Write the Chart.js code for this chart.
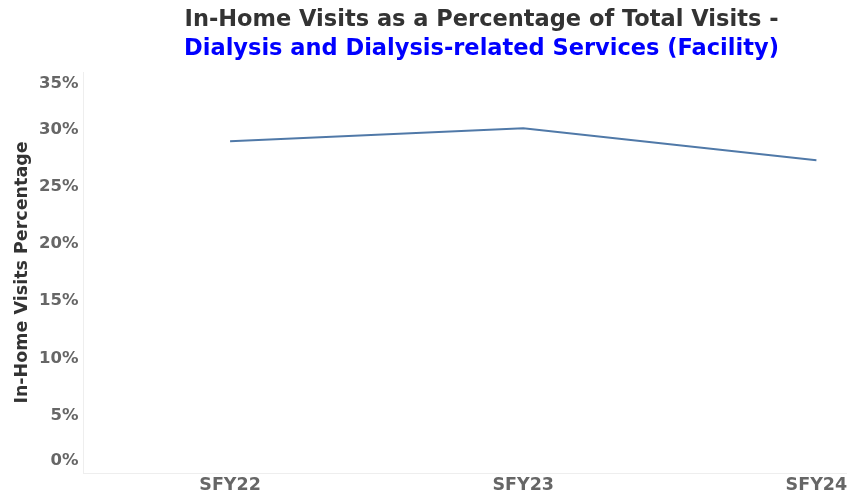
<!DOCTYPE html>
<html>
<head>
<meta charset="utf-8">
<script src="https://cdn.jsdelivr.net/npm/chart.js@4"></script>
<style>
  html, body { margin: 0; padding: 0; background: #fff; overflow: hidden; }
  #wrap { width: 963px; height: 498px; }
</style>
</head>
<body>
<div id="wrap"><canvas id="chart" width="963" height="498"></canvas></div>
<script>
// Dati
const years = ['SFY22', 'SFY23', 'SFY24'];
const inHomePct = [28.95, 30.1, 27.3];

const titleLine1 = 'In-Home Visits as a Percentage of Total Visits -';
const titleLine2 = 'Dialysis and Dialysis-related Services (Facility)';

const fontFamily = '"DejaVu Sans", Verdana, sans-serif';
const yTickFont = { family: fontFamily, size: 16.5, weight: 'bold' };

// Etichette dell'asse Y disegnate a mano: quelle ai bordi restano dentro l'area
const edgeLabels = {
    id: 'edgeLabels',
    afterDraw(chart) {
        const y = chart.scales.y;
        const c = chart.ctx;
        c.save();
        c.font = `bold ${yTickFont.size}px ${yTickFont.family}`;
        c.fillStyle = '#666666';
        c.textAlign = 'right';
        c.textBaseline = 'middle';
        y.ticks.forEach(t => {
            let py = y.getPixelForValue(t.value);
            py = Math.min(Math.max(py, y.top + 12), y.bottom - 12);
            c.fillText(t.value + '%', y.right - 5, py);
        });
        c.restore();
    }
};

const ctx = document.getElementById('chart').getContext('2d');

new Chart(ctx, {
    type: 'line',
    data: {
        labels: years,
        datasets: [{
            label: 'In-Home Visits Percentage',
            data: inHomePct,
            borderColor: '#5079a8',
            borderWidth: 2,
            pointRadius: 0,
            tension: 0,
            fill: false
        }]
    },
    plugins: [edgeLabels],
    options: {
        responsive: false,
        animation: false,
        devicePixelRatio: 1,
        layout: {
            padding: 0
        },
        plugins: {
            legend: { display: false },
            tooltip: { enabled: false },
            title: {
                display: true,
                text: titleLine1,
                color: '#333333',
                font: { family: fontFamily, size: 22.5, weight: 'bold' },
                padding: { top: 6.5, bottom: 2 }
            },
            subtitle: {
                display: true,
                text: titleLine2,
                color: '#0000ff',
                font: { family: fontFamily, size: 22.5, weight: 'bold' },
                padding: { top: 0, bottom: 9.5 }
            }
        },
        scales: {
            x: {
                offset: true,
                grid: { display: false, drawTicks: false },
                border: { display: true, color: '#eeeeee', width: 1 },
                ticks: {
                    color: '#666666',
                    padding: 2,
                    font: { family: fontFamily, size: 17.5, weight: 'bold' }
                }
            },
            y: {
                min: 0,
                max: 35,
                grid: { display: false, drawTicks: false },
                border: { display: true, color: '#eeeeee', width: 1 },
                ticks: {
                    stepSize: 5,
                    color: 'rgba(0,0,0,0)',
                    padding: 5,
                    font: yTickFont,
                    callback: v => v + '%'
                },
                title: {
                    display: true,
                    text: 'In-Home Visits Percentage',
                    color: '#333333',
                    padding: { top: 11.5, bottom: 1.5 },
                    font: { family: fontFamily, size: 17.5, weight: 'bold' }
                }
            }
        }
    }
});
</script>
</body>
</html>
